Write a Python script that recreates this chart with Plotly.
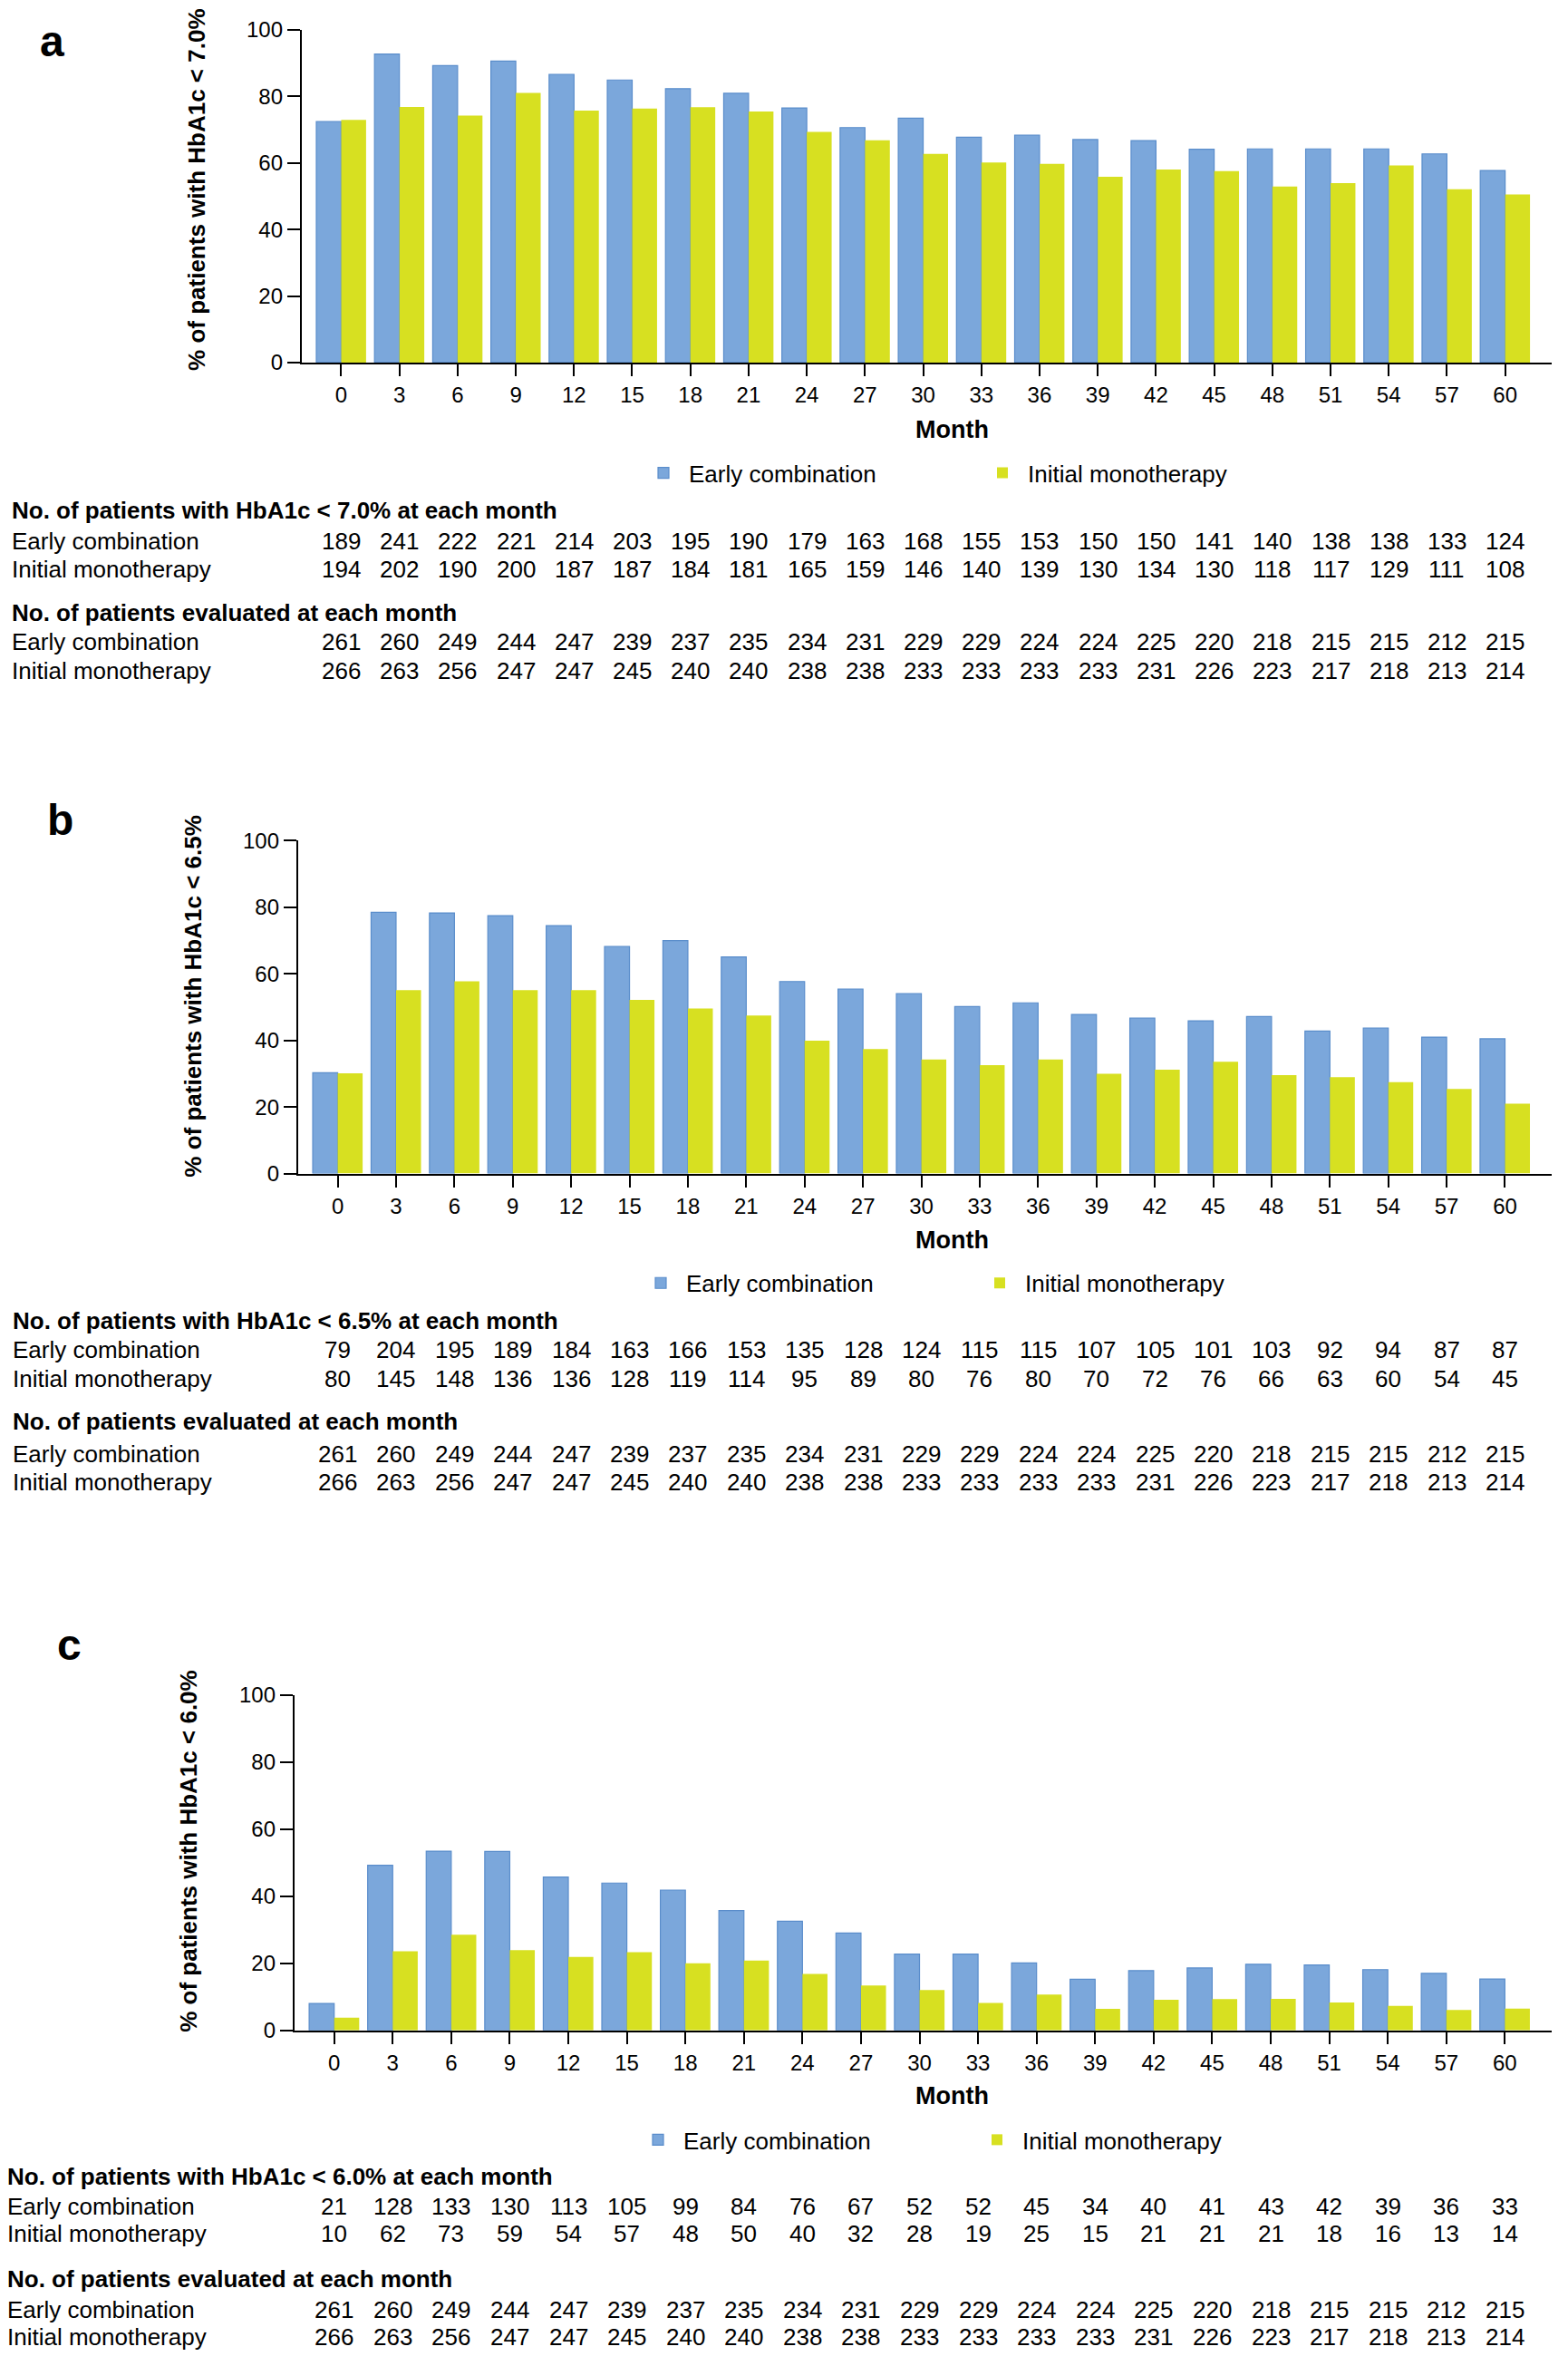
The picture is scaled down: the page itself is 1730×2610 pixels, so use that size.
import plotly.graph_objects as go

# ---------------- data ----------------
months = [0, 3, 6, 9, 12, 15, 18, 21, 24, 27, 30, 33, 36, 39, 42, 45, 48, 51, 54, 57, 60]
month_labels = [str(m) for m in months]

# % of patients reaching target
a_early_pct = [72.4, 92.7, 89.2, 90.6, 86.6, 84.9, 82.3, 80.9, 76.5, 70.6, 73.4, 67.7, 68.3, 67.0, 66.7, 64.1, 64.2, 64.2, 64.2, 62.7, 57.7]
a_mono_pct = [72.9, 76.8, 74.2, 81.0, 75.7, 76.3, 76.7, 75.4, 69.3, 66.8, 62.7, 60.1, 59.7, 55.8, 58.0, 57.5, 52.9, 53.9, 59.2, 52.1, 50.5]
b_early_pct = [30.3, 78.5, 78.3, 77.5, 74.5, 68.2, 70.0, 65.1, 57.7, 55.4, 54.1, 50.2, 51.3, 47.8, 46.7, 45.9, 47.2, 42.8, 43.7, 41.0, 40.5]
b_mono_pct = [30.1, 55.1, 57.8, 55.1, 55.1, 52.2, 49.6, 47.5, 39.9, 37.4, 34.3, 32.6, 34.3, 30.0, 31.2, 33.6, 29.6, 29.0, 27.5, 25.4, 21.0]
c_early_pct = [8.0, 49.2, 53.4, 53.3, 45.7, 43.9, 41.8, 35.7, 32.5, 29.0, 22.7, 22.7, 20.1, 15.2, 17.8, 18.6, 19.7, 19.5, 18.1, 17.0, 15.3]
c_mono_pct = [3.8, 23.6, 28.5, 23.9, 21.9, 23.3, 20.0, 20.8, 16.8, 13.4, 12.0, 8.2, 10.7, 6.4, 9.1, 9.3, 9.4, 8.3, 7.3, 6.1, 6.5]

# table counts
a_early_n = [189, 241, 222, 221, 214, 203, 195, 190, 179, 163, 168, 155, 153, 150, 150, 141, 140, 138, 138, 133, 124]
a_mono_n = [194, 202, 190, 200, 187, 187, 184, 181, 165, 159, 146, 140, 139, 130, 134, 130, 118, 117, 129, 111, 108]
b_early_n = [79, 204, 195, 189, 184, 163, 166, 153, 135, 128, 124, 115, 115, 107, 105, 101, 103, 92, 94, 87, 87]
b_mono_n = [80, 145, 148, 136, 136, 128, 119, 114, 95, 89, 80, 76, 80, 70, 72, 76, 66, 63, 60, 54, 45]
c_early_n = [21, 128, 133, 130, 113, 105, 99, 84, 76, 67, 52, 52, 45, 34, 40, 41, 43, 42, 39, 36, 33]
c_mono_n = [10, 62, 73, 59, 54, 57, 48, 50, 40, 32, 28, 19, 25, 15, 21, 21, 21, 18, 16, 13, 14]
eval_early = [261, 260, 249, 244, 247, 239, 237, 235, 234, 231, 229, 229, 224, 224, 225, 220, 218, 215, 215, 212, 215]
eval_mono = [266, 263, 256, 247, 247, 245, 240, 240, 238, 238, 233, 233, 233, 233, 231, 226, 223, 217, 218, 213, 214]

series_names = ["Early combination", "Initial monotherapy"]
panel_letters = ["a", "b", "c"]
thresholds = ["7.0%", "6.5%", "6.0%"]
y_ticks = [0, 20, 40, 60, 80, 100]

# ---------------- layout constants ----------------
W, H = 1730, 2610
FONT = "Liberation Sans, Arial, Helvetica, sans-serif"
BLUE = "#7BA7DB"
BLUE_EDGE = "#5A8DCB"
YELLOW = "#D7E021"


def py(pix):
    return 1 - pix / H


def px(pix):
    return pix / W


panels = [
    dict(letter_xy=(58, 32), ytitle_xy=(217, 198), x_left=333, y_top=19, y_bot=390,
         month_y=465, legend_y=513, legend_x=704, table_x=11,
         rows=[555, 589, 620, 669, 701, 734],
         early_pct=a_early_pct, mono_pct=a_mono_pct, early_n=a_early_n, mono_n=a_mono_n),
    dict(letter_xy=(66, 900), ytitle_xy=(213, 1097), x_left=329, y_top=923, y_bot=1294,
         month_y=1368, legend_y=1416, legend_x=701, table_x=12,
         rows=[1458, 1490, 1523, 1570, 1607, 1638],
         early_pct=b_early_pct, mono_pct=b_mono_pct, early_n=b_early_n, mono_n=b_mono_n),
    dict(letter_xy=(76, 1819), ytitle_xy=(208, 2050), x_left=325, y_top=1875, y_bot=2249,
         month_y=2322, legend_y=2371, legend_x=698, table_x=6,
         rows=[2412, 2445, 2476, 2526, 2560, 2591],
         early_pct=c_early_pct, mono_pct=c_mono_pct, early_n=c_early_n, mono_n=c_mono_n),
]

fig = go.Figure()
annotations = []
layout_axes = {}

for i, p in enumerate(panels):
    sfx = "" if i == 0 else str(i + 1)
    xref = "x" + sfx
    yref = "y" + sfx
    leg = "legend" + sfx

    fig.add_trace(go.Bar(
        x=months, y=p["early_pct"], name=series_names[0], xaxis=xref, yaxis=yref,
        marker=dict(color=BLUE, line=dict(color=BLUE_EDGE, width=1.2)), legend=leg,
    ))
    fig.add_trace(go.Bar(
        x=months, y=p["mono_pct"], name=series_names[1], xaxis=xref, yaxis=yref,
        marker=dict(color=YELLOW, line=dict(width=0)), legend=leg,
    ))

    layout_axes["xaxis" + sfx] = dict(
        domain=[px(p["x_left"]), px(1712)], range=[-2.03, 62.4], anchor=yref,
        tickmode="array", tickvals=months, ticktext=month_labels,
        showline=True, linecolor="black", linewidth=2.2,
        ticks="outside", ticklen=13, tickwidth=2, tickcolor="black",
        tickfont=dict(family=FONT, size=24, color="black"),
        showgrid=False, zeroline=False, fixedrange=True,
    )
    layout_axes["yaxis" + sfx] = dict(
        domain=[py(p["y_bot"]), py(p["y_top"])], range=[0, 100], anchor=xref,
        tickmode="array", tickvals=y_ticks,
        showline=True, linecolor="black", linewidth=2.2,
        ticks="outside", ticklen=14, tickwidth=2, tickcolor="black",
        tickfont=dict(family=FONT, size=24, color="black"),
        showgrid=False, zeroline=False, fixedrange=True,
    )
    layout_axes[leg] = dict(
        x=px(p["legend_x"]), y=py(p["legend_y"]), xanchor="left", yanchor="middle",
        orientation="h", entrywidth=313, entrywidthmode="pixels", itemwidth=46,
        font=dict(family=FONT, size=26, color="black"), bgcolor="rgba(0,0,0,0)",
        traceorder="normal",
    )

    # panel letter
    annotations.append(dict(x=px(p["letter_xy"][0]), y=py(p["letter_xy"][1]), xref="paper", yref="paper",
                            text="<b>%s</b>" % panel_letters[i], showarrow=False,
                            xanchor="center", yanchor="middle",
                            font=dict(family=FONT, size=48, color="black")))
    # y-axis title
    annotations.append(dict(x=px(p["ytitle_xy"][0]), y=py(p["ytitle_xy"][1]), xref="paper", yref="paper",
                            text="<b>%% of patients with HbA1c &lt; %s</b>" % thresholds[i], showarrow=False,
                            textangle=-90, xanchor="center", yanchor="middle",
                            font=dict(family=FONT, size=26, color="black")))
    # Month title
    annotations.append(dict(x=px(1050), y=py(p["month_y"]), xref="paper", yref="paper",
                            text="<b>Month</b>", showarrow=False, xanchor="center", yanchor="middle",
                            font=dict(family=FONT, size=27, color="black")))

    # table
    r = p["rows"]
    headers = [
        (r[0], "<b>No. of patients with HbA1c &lt; %s at each month</b>" % thresholds[i]),
        (r[3], "<b>No. of patients evaluated at each month</b>"),
    ]
    for yy, txt in headers:
        annotations.append(dict(x=px(p["table_x"]), y=py(yy), xref="paper", yref="paper", text=txt,
                                showarrow=False, xanchor="left", yanchor="middle",
                                font=dict(family=FONT, size=26, color="black")))
    table_rows = [
        (r[1], series_names[0], p["early_n"]),
        (r[2], series_names[1], p["mono_n"]),
        (r[4], series_names[0], eval_early),
        (r[5], series_names[1], eval_mono),
    ]
    for yy, label, vals in table_rows:
        annotations.append(dict(x=px(p["table_x"]), y=py(yy), xref="paper", yref="paper", text=label,
                                showarrow=False, xanchor="left", yanchor="middle",
                                font=dict(family=FONT, size=26, color="black")))
        for m, v in zip(months, vals):
            annotations.append(dict(x=m, y=py(yy), xref=xref, yref="paper", text=str(v),
                                    showarrow=False, xanchor="center", yanchor="middle",
                                    font=dict(family=FONT, size=26, color="black")))

fig.update_layout(
    width=W, height=H, autosize=False,
    margin=dict(l=0, r=0, t=0, b=0, pad=0),
    paper_bgcolor="white", plot_bgcolor="white",
    barmode="group", bargap=0.145, bargroupgap=0,
    showlegend=True,
    annotations=annotations,
    font=dict(family=FONT, color="black"),
    **layout_axes,
)

fig.write_html(
    "out.html",
    config={"displayModeBar": False, "staticPlot": True},
    post_script="document.body.style.margin='0';document.documentElement.style.overflow='hidden';",
)
